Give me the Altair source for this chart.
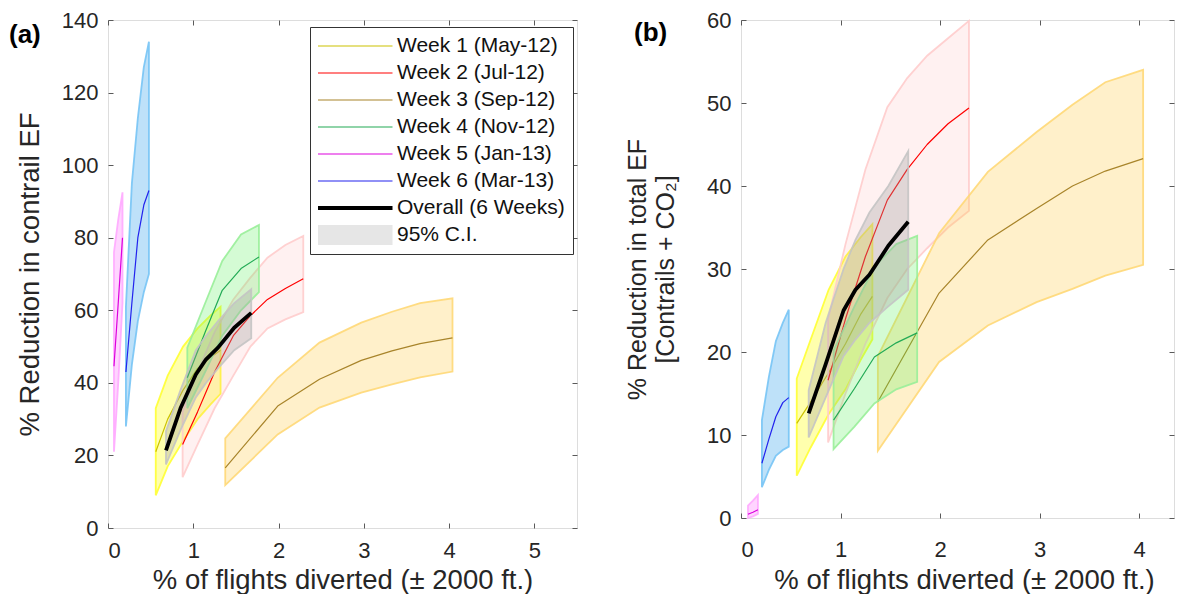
import altair as alt
import pandas as pd

LABELS = ["Week 1 (May-12)", "Week 2 (Jul-12)", "Week 3 (Sep-12)", "Week 4 (Nov-12)",
          "Week 5 (Jan-13)", "Week 6 (Mar-13)", "Overall (6 Weeks)", "95% C.I."]
LINE_COLORS = ["#CCC200", "#FF0000", "#A8842A", "#22AA55", "#DD00DD", "#2222EE", "#000000", "#E6E6E6"]
LINE_WIDTHS = [1.2, 1.2, 1.2, 1.2, 1.2, 1.2, 3.8, 20]
BAND_FILL = ["#FFFF00", "#FF9999", "#FFC840", "#55EE55", "#FF88FF", "#44AAEE", "#A0A0A0"]
BAND_FILL_OPACITY = [0.32, 0.14, 0.28, 0.25, 0.35, 0.35, 0.32]
BAND_EDGE = ["#FFFF33", "#FFCCCC", "#FFD877", "#99EE99", "#FFAAFF", "#77C4F5", "#C4C4C4"]

# x positions (% of flights diverted)
X_W1 = [0.56, 0.70, 0.88, 1.05, 1.20, 1.32]
X_W2 = [0.875, 1.05, 1.25, 1.47, 1.67, 1.87, 2.08, 2.29]
X_W3 = [1.375, 1.99, 2.48, 2.97, 3.33, 3.66, 4.04]
X_W4 = [0.93, 1.14, 1.34, 1.56, 1.77]
X_W5 = [0.07, 0.12, 0.17]
X_W6 = [0.21, 0.28, 0.35, 0.42, 0.48]
X_ALL = [0.68, 0.85, 1.03, 1.15, 1.29, 1.48, 1.68]

# Panel (a): % reduction in contrail EF  (mean, lower, upper)
A_W1 = [21, 30, 38, 44, 47, 49]
A_W1_LO = [9, 17, 24, 30, 34, 37]
A_W1_HI = [33, 42, 50, 55, 58.5, 61]
A_W2 = [23, 32, 43, 53, 58.5, 63, 66, 68.7]
A_W2_LO = [14, 23, 33, 42, 50, 55, 57.5, 59.5]
A_W2_HI = [32, 43, 54, 63, 69, 74.5, 78, 80.5]
A_W3 = [16.6, 33.6, 41, 46.2, 48.8, 50.8, 52.4]
A_W3_LO = [11.8, 25.8, 33.2, 37.3, 39.6, 41.5, 43.1]
A_W3_HI = [24.7, 41.4, 51.1, 56.6, 59.6, 62, 63.3]
A_W4 = [41.4, 54, 65.5, 71.5, 74.7]
A_W4_LO = [33, 43, 53, 60, 65]
A_W4_HI = [49.7, 62, 73.6, 80.9, 83.5]
A_W5 = [44.6, 62, 80]
A_W5_LO = [21, 40, 62]
A_W5_HI = [76, 85, 92.5]
A_W6 = [43, 62, 80, 89, 93]
A_W6_LO = [28, 45, 57, 65, 70]
A_W6_HI = [61, 95, 113, 127, 134]
A_ALL = [21.4, 33, 42.3, 46.5, 49.7, 55.2, 59.3]
A_ALL_LO = [17.5, 27, 36, 40, 44, 49, 52.3]
A_ALL_HI = [26.7, 38, 49, 53, 57, 62, 65.8]

# Panel (b): % reduction in total EF (contrails + CO2)
B_W1 = [11.4, 14, 17.5, 21, 24.5, 26.7]
B_W1_LO = [5.1, 8.5, 12.5, 15.5, 19, 21.5]
B_W1_HI = [16.8, 21.5, 27.5, 31.5, 33.8, 35.4]
B_W2 = [16.6, 24, 31.5, 38.3, 42, 45, 47.5, 49.4]
B_W2_LO = [9.1, 15, 21, 26.5, 30, 32.5, 35, 37]
B_W2_HI = [24, 33, 42, 49.5, 53, 55.7, 57.8, 59.9]
B_W3 = [14, 27.1, 33.5, 37.3, 40, 41.8, 43.3]
B_W3_LO = [8.1, 18.8, 23.2, 26, 27.6, 29.2, 30.5]
B_W3_HI = [19.5, 34.3, 41.7, 46.5, 49.8, 52.5, 54]
B_W4 = [11.8, 15.6, 19.4, 21.1, 22.3]
B_W4_LO = [8.3, 11, 13.8, 15.5, 16.4]
B_W4_HI = [20.2, 25.5, 30.3, 33, 34]
B_W5 = [0.45, 0.7, 1.0]
B_W5_LO = [0.0, 0.2, 0.5]
B_W5_HI = [1.5, 2.1, 2.75]
B_W6 = [6.6, 9.5, 12.2, 13.9, 14.5]
B_W6_LO = [3.7, 5.8, 7.5, 8.2, 8.6]
B_W6_HI = [11.8, 17, 21.3, 23.5, 25.1]
B_ALL = [12.6, 18.5, 25, 27.5, 29.3, 32.8, 35.7]
B_ALL_LO = [9.7, 14.5, 19.5, 21.5, 23.5, 25.5, 27.5]
B_ALL_HI = [15.4, 23.5, 30, 33.5, 36.8, 40, 44.2]

XS = [X_W1, X_W2, X_W3, X_W4, X_W5, X_W6, X_ALL]
PANEL_A = [(A_W1, A_W1_LO, A_W1_HI), (A_W2, A_W2_LO, A_W2_HI), (A_W3, A_W3_LO, A_W3_HI),
           (A_W4, A_W4_LO, A_W4_HI), (A_W5, A_W5_LO, A_W5_HI), (A_W6, A_W6_LO, A_W6_HI),
           (A_ALL, A_ALL_LO, A_ALL_HI)]
PANEL_B = [(B_W1, B_W1_LO, B_W1_HI), (B_W2, B_W2_LO, B_W2_HI), (B_W3, B_W3_LO, B_W3_HI),
           (B_W4, B_W4_LO, B_W4_HI), (B_W5, B_W5_LO, B_W5_HI), (B_W6, B_W6_LO, B_W6_HI),
           (B_ALL, B_ALL_LO, B_ALL_HI)]

X_TICKS_A = [0, 1, 2, 3, 4, 5]
Y_TICKS_A = [0, 20, 40, 60, 80, 100, 120, 140]
X_TICKS_B = [0, 1, 2, 3, 4]
Y_TICKS_B = [0, 10, 20, 30, 40, 50, 60]

FONT = "Liberation Sans"
TXT = "#262626"
FRAME = "#5a5a5a"
XTITLE = "% of flights diverted (± 2000 ft.)"

# legend symbol stroke widths follow LINE_WIDTHS
SW_EXPR = "datum.value === '%s' ? %s : (datum.value === '%s' ? %s : %s)" % (
    LABELS[6], LINE_WIDTHS[6], LABELS[7], LINE_WIDTHS[7], LINE_WIDTHS[0])


def frame_axes(xs, ys, xdom, ydom, xticks, yticks, ytitle, st):
    df = pd.DataFrame({"x": [xdom[0]], "y": [ydom[0]]})
    common = dict(offset=-5, tickSize=5, domain=False, grid=False, tickColor=FRAME,
                  labelFont=FONT, labelFontSize=st["tick"], labelColor=TXT,
                  titleFont=FONT, titleFontWeight="normal", titleColor=TXT)
    xextra = {"titleX": st["xtx"]} if st.get("xtx") is not None else {}
    bl = alt.Chart(df).mark_point(opacity=0, size=1).encode(
        x=alt.X("x:Q", scale=xs, axis=alt.Axis(orient="bottom", values=xticks, title=XTITLE,
                                               labelPadding=st["xlp"], titlePadding=st["xtp"],
                                               titleFontSize=st["xtitle"], **xextra, **common)),
        y=alt.Y("y:Q", scale=ys, axis=alt.Axis(orient="left", values=yticks, title=ytitle,
                                               labelPadding=10, titlePadding=st["ytp"],
                                               titleFontSize=st["ytitle"],
                                               titleLineHeight=st["ylh"], **common)),
    )
    tr = alt.Chart(df).mark_point(opacity=0, size=1).encode(
        x=alt.X("x:Q", scale=xs, axis=alt.Axis(orient="top", values=xticks, title=None,
                                               labels=False, **common)),
        y=alt.Y("y:Q", scale=ys, axis=alt.Axis(orient="right", values=yticks, title=None,
                                               labels=False, **common)),
    )
    return [bl, tr]


def make_panel(panel, xdom, ydom, xticks, yticks, ytitle, tag, tagx, tagy, width, height,
               legend, st):
    xs = alt.Scale(domain=xdom, nice=False, zero=False)
    ys = alt.Scale(domain=ydom, nice=False, zero=False)
    layers = frame_axes(xs, ys, xdom, ydom, xticks, yticks, ytitle, st)
    for i, (vals, xv) in enumerate(zip(panel, XS)):
        mean, lo, hi = vals
        df = pd.DataFrame({"x": xv, "m": mean, "lo": lo, "hi": hi, "label": LABELS[i]})
        band = alt.Chart(df).mark_area(
            fill=BAND_FILL[i], fillOpacity=BAND_FILL_OPACITY[i],
            stroke=BAND_EDGE[i], strokeOpacity=0.9, strokeWidth=1.8,
        ).encode(
            x=alt.X("x:Q", scale=xs, axis=None),
            y=alt.Y("lo:Q", scale=ys, axis=None),
            y2="hi:Q",
        )
        if legend:
            leg = alt.Legend(title=None, orient="none", legendX=202, legendY=7,
                             symbolType="stroke", symbolSize=5625, clipHeight=22,
                             symbolOffset=26.5,
                             rowPadding=5, labelOffset=31.5, padding=8, labelLimit=400,
                             labelFont=FONT, labelFontSize=21, labelColor="#111111",
                             strokeColor="#333333", fillColor="white", symbolOpacity=1,
                             symbolStrokeWidth=alt.ExprRef(expr=SW_EXPR))
            color = alt.Color("label:N", scale=alt.Scale(domain=LABELS, range=LINE_COLORS), legend=leg)
        else:
            color = alt.value(LINE_COLORS[i])
        line = alt.Chart(df).mark_line(strokeJoin="round", strokeWidth=LINE_WIDTHS[i]).encode(
            x=alt.X("x:Q", scale=xs, axis=None),
            y=alt.Y("m:Q", scale=ys, axis=None),
            color=color,
        )
        layers += [band, line]
    tdf = pd.DataFrame({"t": [tag]})
    tagc = alt.Chart(tdf).mark_text(
        align="left", baseline="top", font=FONT, fontSize=26, fontWeight="bold", color="#000000"
    ).encode(text="t:N", x=alt.value(tagx), y=alt.value(tagy))
    layers.append(tagc)
    return alt.layer(*layers).properties(width=width, height=height)


ST_A = dict(tick=22, xtitle=27.5, ytitle=27.5, xlp=12, xtp=5, ytp=17, ylh=30)
ST_B = dict(tick=22, xtitle=27.5, ytitle=25, xlp=21, xtp=6, ytp=28, ylh=28, xtx=223)

chart_a = make_panel(PANEL_A, [0, 5.5], [0, 140], X_TICKS_A, Y_TICKS_A,
                     "% Reduction in contrail EF", "(a)", -99, 2, 469, 508, True, ST_A)
chart_b = make_panel(PANEL_B, [0, 4.35], [0, 60], X_TICKS_B, Y_TICKS_B,
                     ["% Reduction in total EF", "[Contrails + CO₂]"], "(b)", -107, 0, 433, 498,
                     False, ST_B)

chart = alt.hconcat(chart_a, chart_b, spacing=47).resolve_scale(
    color="independent"
).resolve_legend(color="independent").properties(
    padding={"left": 0, "top": 0, "right": 0, "bottom": 0}
).configure_view(stroke=FRAME, strokeWidth=1).configure(background="white")

chart.save("out.html", embed_options={"renderer": "svg", "actions": False})
